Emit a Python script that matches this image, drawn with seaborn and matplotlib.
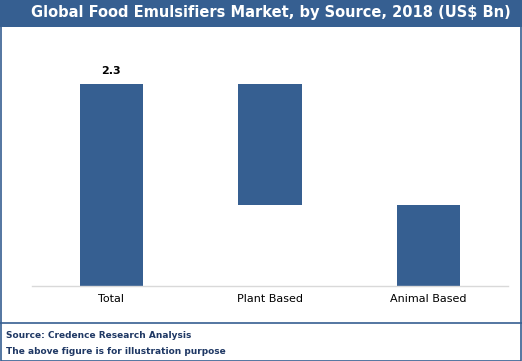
import matplotlib
matplotlib.use("Agg")
import matplotlib.pyplot as plt
import seaborn as sns
from matplotlib.patches import Rectangle
from matplotlib.lines import Line2D

sns.set_style("white")

categories = ["Total", "Plant Based", "Animal Based"]
values = [2.3, 1.38, 0.92]
# waterfall: Total from 0, Plant on top of Animal, Animal from 0
bases = [0, values[2], 0]
label_text = "2.3"

blue = "#365F91"
navy = "#1F3864"

W, H = 522, 361
fig = plt.figure(figsize=(W / 100, H / 100), dpi=100)

# axes placed in pixel terms
ax = fig.add_axes([32 / W, (H - 286) / H, 476 / W, 228 / H])

sns.barplot(x=categories, y=values, bottom=bases, color=blue, saturation=1,
            width=0.4, linewidth=0, ax=ax)

ax.set_xlim(-0.5, 2.5)
ax.set_ylim(0, 2.6)
ax.set_yticks([])
for s in ["top", "left", "right"]:
    ax.spines[s].set_visible(False)
ax.spines["bottom"].set_color("#D9D9D9")
ax.spines["bottom"].set_linewidth(1)
ax.tick_params(axis="x", length=0, labelsize=8, colors="#000000", pad=6)

ax.text(0, values[0] + 0.1, label_text, ha="center", va="bottom",
        fontsize=8, fontweight="bold", color="#000000")

# title band
fig.patches.append(Rectangle((0, (H - 27) / H), 1, 27 / H, transform=fig.transFigure,
                             facecolor=blue, edgecolor="none", zorder=0))
fig.text(271 / W, 1 - 13 / H, "Global Food Emulsifiers Market, by Source, 2018 (US$ Bn)",
         ha="center", va="center", color="white", fontsize=10.5, fontweight="bold")

# outer border and footer separator
fig.patches.append(Rectangle((0.5 / W, 0.5 / H), 1 - 1.5 / W, 1 - 1.5 / H,
                             transform=fig.transFigure, facecolor="none",
                             edgecolor=blue, linewidth=1.2))
fig.lines.append(Line2D([0, 1], [(H - 323) / H, (H - 323) / H], transform=fig.transFigure,
                        color=blue, linewidth=1.2))

fig.text(6 / W, 1 - 335 / H, "Source: Credence Research Analysis", ha="left", va="center",
         color=navy, fontsize=6.5, fontweight="bold")
fig.text(6 / W, 1 - 352 / H, "The above figure is for illustration purpose", ha="left",
         va="center", color=navy, fontsize=6.5, fontweight="bold")

fig.savefig("out.png", dpi=100)
